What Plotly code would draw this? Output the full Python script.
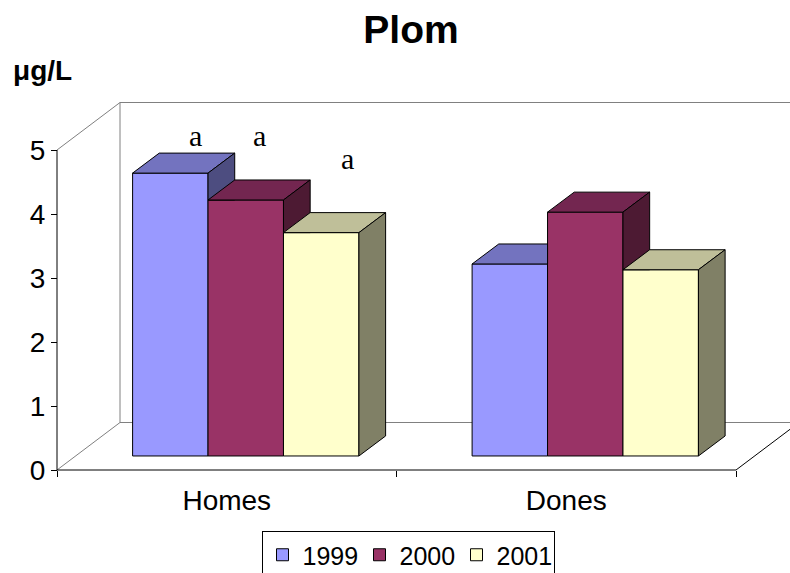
import plotly.graph_objects as go

# ---------------- data ----------------
categories = ["Homes", "Dones"]
years = ["1999", "2000", "2001"]
v1999 = [4.42, 3.00]
v2000 = [4.00, 3.81]
v2001 = [3.49, 2.91]
series_values = [v1999, v2000, v2001]
y_ticks = [0, 1, 2, 3, 4, 5]
category_edges = [0, 1, 2]
marks = ["a", "a", "a"]

# ---------------- style ----------------
front_colors = ["#9999FF", "#993366", "#FFFFCC"]
top_colors = ["#7373BF", "#732650", "#BFBF99"]
side_colors = ["#4D4D80", "#4D1A33", "#808066"]
SANS = "Liberation Sans, Arial, sans-serif"
SERIF = "Liberation Serif, Times New Roman, serif"
WALL = "#808080"

# 3D geometry (axis units)
BW = 1 / 4.5            # bar width (gap width 150%)
GAP = 0.75 * BW         # half gap before the first bar
FX, FY = 0.056, 0.219   # depth shift of the bars' front plane
DX, DY = 0.0786, 0.3125  # bar depth
WX, WY = 0.1856, 0.742   # wall depth
YMAX = y_ticks[-1]

fig = go.Figure()

# front faces: real bar traces
for k, yr in enumerate(years):
    xs = [c + GAP + FX + (k + 0.5) * BW for c in range(len(categories))]
    fig.add_trace(go.Bar(
        x=xs, y=series_values[k], base=FY, width=BW, name=yr,
        marker=dict(color=front_colors[k], line=dict(color="black", width=1)),
        hoverinfo="skip",
    ))

# top and side faces (visible parts), painter's order
for c in range(len(categories)):
    for k in range(len(years)):
        v = series_values[k][c]
        x0 = c + GAP + FX + k * BW
        xr = x0 + BW
        t = FY + v
        nxt = series_values[k + 1][c] if k + 1 < len(years) else None
        # top face
        if nxt is not None and nxt > v:
            h = FY + nxt
            if h >= t + DY:
                tx = [x0, x0 + DX, xr, xr, x0]
                ty = [t, t + DY, t + DY, t, t]
            else:
                xm = xr + (h - t) / DY * DX
                tx = [x0, x0 + DX, xr + DX, xm, xr, xr, x0]
                ty = [t, t + DY, t + DY, h, h, t, t]
        else:
            tx = [x0, x0 + DX, xr + DX, xr, x0]
            ty = [t, t + DY, t + DY, t, t]
        fig.add_trace(go.Scatter(x=tx, y=ty, mode="lines", fill="toself",
                                 fillcolor=top_colors[k],
                                 line=dict(color="black", width=1),
                                 showlegend=False, hoverinfo="skip"))
        # side face
        if nxt is None:
            sx = [xr, xr, xr + DX, xr + DX, xr]
            sy = [FY, t, t + DY, FY + DY, FY]
        elif nxt < v:
            h = FY + nxt
            sx = [xr, xr, xr + DX, xr + DX, xr]
            sy = [h, t, t + DY, h, h]
        else:
            sx = None
        if sx is not None:
            fig.add_trace(go.Scatter(x=sx, y=sy, mode="lines", fill="toself",
                                     fillcolor=side_colors[k],
                                     line=dict(color="black", width=1),
                                     showlegend=False, hoverinfo="skip"))

# walls / floor outline
def seg(x0, y0, x1, y1, color):
    return dict(type="line", xref="x", yref="y", x0=x0, y0=y0, x1=x1, y1=y1,
                line=dict(color=color, width=1), layer="below")

n_cat = len(categories)
shapes = [
    seg(0, YMAX, WX, YMAX + WY, WALL),
    seg(WX, WY, WX, YMAX + WY, WALL),
    seg(WX, YMAX + WY, n_cat + 1, YMAX + WY, WALL),
    seg(0, 0, WX, WY, WALL),
    seg(WX, WY, n_cat + 1, WY, WALL),
    seg(0, 0, 0, YMAX, "black"),
    seg(0, 0, n_cat, 0, "black"),
    seg(n_cat, 0, n_cat + WX, WY, "black"),
]

# "a" labels
ann_pos = [(0.4065, 5.22), (0.596, 5.22), (0.857, 4.86)]
annotations = [
    dict(x=px, y=py, xref="x", yref="y", text=m, showarrow=False,
         font=dict(family=SERIF, size=30, color="black"),
         xanchor="center", yanchor="middle")
    for m, (px, py) in zip(marks, ann_pos)
]

L, R, T, B = 50, 0, 95, 93
W, H = 790, 573
PX = 339.5  # px per category
PY = 64.0   # px per unit
plot_w = W - L - R
plot_h = H - T - B
x0_px = 57
y0_px = 470

annotations.append(dict(x=(11 - L) / plot_w, y=((H - B) - 70) / plot_h,
                        xref="paper", yref="paper",
                        text="<b>\u03bcg/L</b>", showarrow=False,
                        font=dict(family=SANS, size=28, color="black"),
                        xanchor="left", yanchor="middle"))

fig.update_layout(
    width=W, height=H,
    margin=dict(l=L, r=R, t=T, b=B, autoexpand=False),
    paper_bgcolor="white", plot_bgcolor="white",
    barmode="overlay",
    shapes=shapes,
    annotations=annotations,
    title=dict(text="<b>Plom</b>", x=411 / W, xref="container", xanchor="center",
               y=1 - 29 / H, yref="container", yanchor="middle",
               font=dict(family=SANS, size=39, color="black")),
    xaxis=dict(
        range=[(L - x0_px) / PX, (W - R - x0_px) / PX],
        anchor="free", position=((H - B) - y0_px) / plot_h,
        tickmode="array", tickvals=[c + 0.5 for c in range(n_cat)], ticktext=categories,
        ticks="outside", ticklen=5, tickcolor="rgba(0,0,0,0)",
        minor=dict(tickmode="array", tickvals=category_edges, ticks="outside",
                   ticklen=6, tickcolor="black", tickwidth=1, showgrid=False),
        tickfont=dict(family=SANS, size=28, color="black"),
        showline=False, showgrid=False, zeroline=False, fixedrange=True,
        automargin=False,
    ),
    yaxis=dict(
        range=[(y0_px - (H - B)) / PY, (y0_px - T) / PY],
        anchor="free", position=(x0_px - L) / plot_w,
        tickmode="array", tickvals=y_ticks,
        ticks="outside", ticklen=6, tickcolor="black", tickwidth=1,
        tickfont=dict(family=SANS, size=28, color="black"),
        showline=False, showgrid=False, zeroline=False, fixedrange=True,
        automargin=False,
    ),
    legend=dict(
        orientation="h", x=(408 - L) / plot_w, xanchor="center",
        y=((H - B) - 531) / plot_h, yanchor="top",
        entrywidth=52, entrywidthmode="pixels",
        bordercolor="black", borderwidth=1, bgcolor="white",
        font=dict(family=SANS, size=25, color="black"),
    ),
    showlegend=True,
)

fig.write_html("out.html", config={"displayModeBar": False},
               post_script="document.body.style.margin='0';")
